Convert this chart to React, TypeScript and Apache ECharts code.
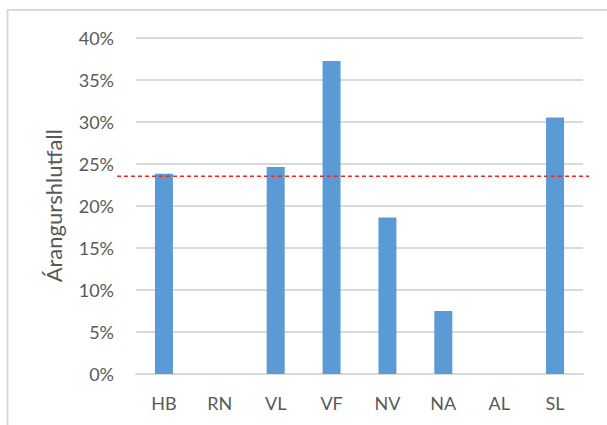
import React, { useEffect, useRef } from "react";
import * as echarts from "echarts";

const categories = ["HB", "RN", "VL", "VF", "NV", "NA", "AL", "SL"];
const rates = [23.8, 0, 24.6, 37.2, 18.6, 7.5, 0, 30.5];
const average = 23.5;
const yTicks = { min: 0, max: 40, interval: 5 };

const FONT = "Lato";
const TEXT = "#595959";
const GRID = "#d9d9d9";

export default function App() {
  const ref = useRef<HTMLDivElement>(null);
  useEffect(() => {
    if (!ref.current) return;
    const chart = echarts.init(ref.current, null, { renderer: "svg" });
    chart.setOption({
      animation: false,
      backgroundColor: "#ffffff",
      textStyle: { fontFamily: FONT },
      graphic: [
        {
          type: "rect",
          shape: { x: 7.5, y: 10, width: 640, height: 440 },
          style: { fill: "none", stroke: GRID, lineWidth: 2 },
          silent: true,
        },
      ],
      grid: [
        { left: 136, right: 24, top: 37.5, bottom: 51, outerBoundsMode: "none", containLabel: false },
        { left: 117, right: 18, top: 37.5, bottom: 51, outerBoundsMode: "none", containLabel: false },
      ],
      xAxis: [
        {
          type: "category",
          gridIndex: 0,
          data: categories,
          axisLine: { lineStyle: { color: GRID, width: 2 } },
          axisTick: { show: false },
          axisLabel: { color: TEXT, fontSize: 18, margin: 20, fontFamily: FONT },
        },
        { type: "value", gridIndex: 1, min: 0, max: 1, show: false },
      ],
      yAxis: [
        {
          type: "value",
          gridIndex: 0,
          min: yTicks.min,
          max: yTicks.max,
          interval: yTicks.interval,
          name: "Árangurshlutfall",
          nameLocation: "middle",
          nameGap: 72,
          nameTextStyle: { color: TEXT, fontSize: 22, fontFamily: FONT },
          axisLine: { show: false },
          axisTick: { show: false },
          splitLine: { lineStyle: { color: GRID, width: 2 } },
          axisLabel: { color: TEXT, fontSize: 18, margin: 22, formatter: "{value}%", fontFamily: FONT },
        },
        { type: "value", gridIndex: 1, min: yTicks.min, max: yTicks.max, show: false },
      ],
      series: [
        {
          type: "bar",
          xAxisIndex: 0,
          yAxisIndex: 0,
          data: rates,
          barWidth: 18,
          itemStyle: { color: "#5b9bd5" },
        },
        {
          type: "line",
          xAxisIndex: 1,
          yAxisIndex: 1,
          data: [
            [0, average],
            [1, average],
          ],
          symbol: "none",
          lineStyle: { color: "#ff2020", width: 1.5, type: [4, 3] },
          z: 5,
        },
      ],
    });
    return () => chart.dispose();
  }, []);
  return (
    <div
      ref={ref}
      style={{ position: "fixed", left: 0, top: 0, width: 607, height: 425 }}
    />
  );
}
